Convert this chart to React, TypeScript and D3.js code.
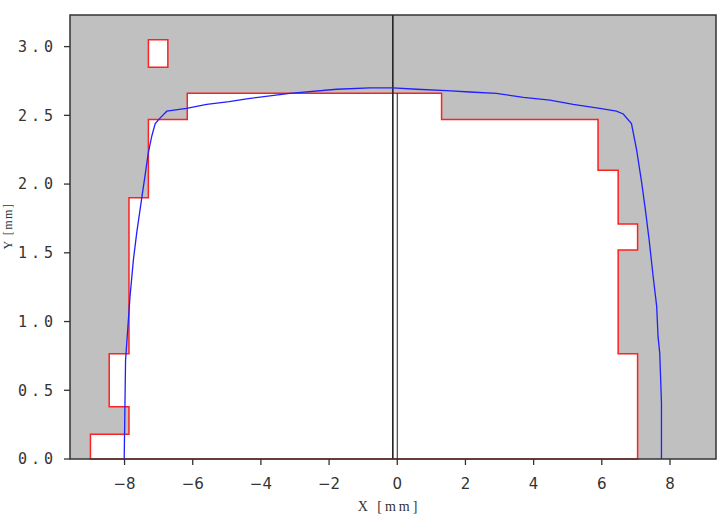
import React from "react";
import * as d3 from "d3";

// red outline (staircase section), [x mm, y mm]
const sectionOutline: [number, number][] = [
	[-9.0, 0], [-9.0, 0.18], [-7.87, 0.18], [-7.87, 0.38], [-8.45, 0.38],
	[-8.45, 0.765], [-7.87, 0.765], [-7.87, 1.9], [-7.3, 1.9], [-7.3, 2.47],
	[-6.16, 2.47], [-6.16, 2.66], [1.3, 2.66], [1.3, 2.47], [5.89, 2.47],
	[5.89, 2.1], [6.48, 2.1], [6.48, 1.71], [7.05, 1.71], [7.05, 1.52],
	[6.48, 1.52], [6.48, 0.765], [7.05, 0.765], [7.05, 0],
];

// small box above the section
const boxX = [-7.3, -6.73];
const boxY = [2.85, 3.05];

// blue profile
const profileX = [
	-8.01, -7.99, -7.97, -7.84, -7.74, -7.64, -7.5, -7.4, -7.3, -7.2, -7.1, -6.96,
	-6.76, -6.18, -5.59, -4.93, -4.42, -3.15, -1.78, -0.8, -0.13, 0.57, 1.45, 2.13,
	2.91, 3.7, 4.48, 5.16, 5.94, 6.43, 6.63, 6.87, 7.02, 7.17, 7.29, 7.39, 7.51,
	7.61, 7.65, 7.7, 7.75, 7.75,
];
const profileY = [
	0, 0.36, 0.72, 1.18, 1.45, 1.65, 1.89, 2.06, 2.23, 2.35, 2.44, 2.48,
	2.53, 2.55, 2.58, 2.6, 2.62, 2.66, 2.69, 2.7, 2.7, 2.69, 2.68, 2.67,
	2.66, 2.63, 2.61, 2.58, 2.55, 2.53, 2.51, 2.44, 2.25, 2.01, 1.79, 1.59, 1.32,
	1.11, 0.89, 0.77, 0.41, 0,
];

const axisLineX = -0.13;
const centerLineX = 0;
const centerLineTop = 2.66;

const xTicks = [-8, -6, -4, -2, 0, 2, 4, 6, 8];
const xTickLabels = ["\u22128", "\u22126", "\u22124", "\u22122", "0", "2", "4", "6", "8"];
const yTicks = [0, 0.5, 1, 1.5, 2, 2.5, 3];
const yTickLabels = ["0.0", "0.5", "1.0", "1.5", "2.0", "2.5", "3.0"];

export default function App() {
	const width = 725;
	const height = 515;
	const margin = { top: 15, right: 9, bottom: 56, left: 70 };
	const innerW = width - margin.left - margin.right;
	const innerH = height - margin.top - margin.bottom;

	const x = d3.scaleLinear().domain([-9.6, 9.35]).range([0, innerW]);
	const y = d3.scaleLinear().domain([0, 3.23]).range([innerH, 0]);

	const line = d3
		.line<[number, number]>()
		.x((d) => x(d[0]))
		.y((d) => y(d[1]));

	const sectionPath = line(sectionOutline) + "Z";
	const profile: [number, number][] = profileX.map((v, i) => [v, profileY[i]]);
	const profilePath = line(profile) || "";

	const textColor = "#333";

	return (
		<svg
			width={width}
			height={height}
			style={{ position: "absolute", left: 0, top: 0, background: "#fff" }}
		>
			<g transform={`translate(${margin.left},${margin.top})`}>
				<rect x={0} y={0} width={innerW} height={innerH} fill="#c0c0c0" />
				<path d={sectionPath} fill="#fff" stroke="#ff2020" strokeWidth={1.5} />
				<rect
					x={x(boxX[0])}
					y={y(boxY[1])}
					width={x(boxX[1]) - x(boxX[0])}
					height={y(boxY[0]) - y(boxY[1])}
					fill="#fff"
					stroke="#ff2020"
					strokeWidth={1.5}
				/>
				<line
					x1={x(axisLineX)}
					x2={x(axisLineX)}
					y1={0}
					y2={innerH}
					stroke="#222"
					strokeWidth={1.6}
				/>
				<line
					x1={x(centerLineX)}
					x2={x(centerLineX)}
					y1={y(centerLineTop)}
					y2={innerH}
					stroke="#222"
					strokeWidth={1}
				/>
				<path d={profilePath} fill="none" stroke="#2020ff" strokeWidth={1.3} />
				<rect
					x={0}
					y={0}
					width={innerW}
					height={innerH}
					fill="none"
					stroke="#333"
					strokeWidth={1.5}
				/>
				{yTicks.map((t, i) => (
					<g key={"y" + i} transform={`translate(0,${y(t)})`}>
						<line x1={-6} x2={0} stroke="#333" strokeWidth={1.3} />
						<text
							x={-13}
							dy="0.35em"
							textAnchor="end"
							fontFamily="'DejaVu Sans Mono', monospace"
							fontSize={15}
							letterSpacing={4}
							fill={textColor}
						>
							{yTickLabels[i]}
						</text>
					</g>
				))}
				{xTicks.map((t, i) => (
					<g key={"x" + i} transform={`translate(${x(t)},${innerH})`}>
						<line y1={0} y2={6} stroke="#333" strokeWidth={1.3} />
						<text
							y={30}
							textAnchor="middle"
							fontFamily="'DejaVu Sans', sans-serif"
							fontSize={15}
							fill={textColor}
						>
							{xTickLabels[i]}
						</text>
					</g>
				))}
			</g>
			<text
				x={389}
				y={511}
				textAnchor="middle"
				fontFamily="'Liberation Serif', serif"
				fontSize={14}
				letterSpacing={3}
				fill={textColor}
			>
				X [mm]
			</text>
			<text
				transform="translate(12,226) rotate(-90)"
				textAnchor="middle"
				fontFamily="'Liberation Serif', serif"
				fontSize={12}
				letterSpacing={1.5}
				fill={textColor}
			>
				Y [mm]
			</text>
		</svg>
	);
}
